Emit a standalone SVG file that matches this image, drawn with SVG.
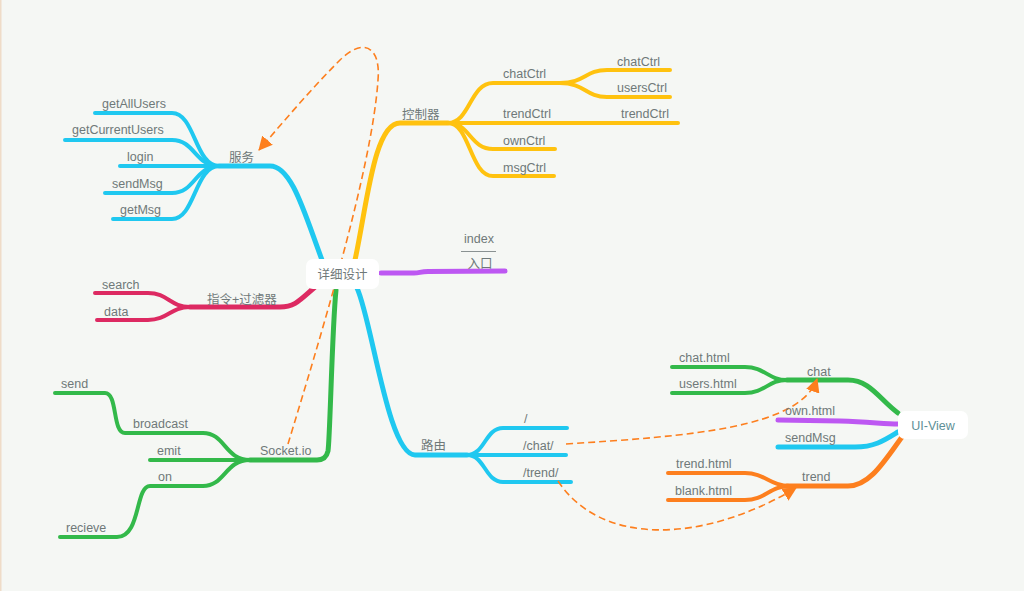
<svg xmlns="http://www.w3.org/2000/svg" width="1024" height="591" viewBox="0 0 1024 591">
<defs>
<style>
.t{font-family:"Liberation Sans","Noto Sans CJK SC",sans-serif;font-size:12.5px;fill:#6f7979}
.c{font-family:"Liberation Sans","Noto Sans CJK SC",sans-serif;font-size:12.5px;fill:#6f7979}
.b{fill:none;stroke-linecap:round;stroke-linejoin:round;stroke-width:4}
.blue{stroke:#1fc8f0}
.yel{stroke:#ffc20f}
.pink{stroke:#dd2a62}
.grn{stroke:#33b94a}
.pur{stroke:#bd58f2}
.org{stroke:#fd7f1e}
.main{stroke-width:5}
.dash{fill:none;stroke:#fd7f1e;stroke-width:1.6;stroke-dasharray:7,4}
.box{fill:#ffffff}
</style>
<marker id="ah" markerUnits="userSpaceOnUse" markerWidth="14" markerHeight="14" refX="13" refY="7" orient="auto">
<path d="M0,0 L14,7 L0,14 z" fill="#fd7f1e"/>
</marker>
</defs>
<rect x="0" y="0" width="1024" height="591" fill="#f5f7f4"/>
<rect x="0" y="0" width="1.5" height="591" fill="#efdcc8"/>

<g id="connectors">
<!-- services -->
<path class="b blue main" d="M322,260 C305,215 292,166 270,166 L219,166"/>
<path class="b blue" d="M219,166 C195,166 195,113 172,113 L95,113"/>
<path class="b blue" d="M219,166 C195,166 195,140 172,140 L65,140"/>
<path class="b blue" d="M219,166 L120,166"/>
<path class="b blue" d="M219,166 C195,166 195,193 172,193 L105,193"/>
<path class="b blue" d="M219,166 C195,166 195,219 172,219 L113,219"/>
<!-- controller -->
<path class="b yel main" d="M355,260 C367,205 374,123 400,123 L448,123"/>
<path class="b yel" d="M448,123 C470,123 470,83 493,83 L560,83"/>
<path class="b yel" d="M560,83 C585,83 585,70 607,70 L670,70"/>
<path class="b yel" d="M560,83 C585,83 585,97 607,97 L670,97"/>
<path class="b yel" d="M448,123 L678,123"/>
<path class="b yel" d="M448,123 C470,123 470,149 493,149 L555,149"/>
<path class="b yel" d="M448,123 C470,123 470,176 493,176 L554,176"/>
<!-- entry -->
<path class="b pur main" d="M381,273 L414,273 C420,273 420,271.5 428,271.5 L505,271"/>
<!-- directive -->
<path class="b pink main" d="M315,287 C300,300 295,307 280,307 L190,307"/>
<path class="b pink" d="M190,307 C170,307 168,293 148,293 L95,293"/>
<path class="b pink" d="M190,307 C170,307 168,320 148,320 L97,320"/>
<!-- socket -->
<path class="b grn main" d="M336,290 C332,330 330,440 328,451 Q326,460 317,460 L250,460"/>
<path class="b grn" d="M250,460 C225,460 225,433 203,433 L125,433 C112,433 118,393 105,393 L55,393"/>
<path class="b grn" d="M250,460 L150,460"/>
<path class="b grn" d="M250,460 C225,460 225,486 203,486 L150,486 C135,486 141,537 117,537 L60,537"/>
<!-- route -->
<path class="b blue main" d="M357,288 C372,320 388,455 415,455 L467,455"/>
<path class="b blue" d="M467,455 C485,455 485,428 503,428 L567,428"/>
<path class="b blue" d="M467,455 L566,455"/>
<path class="b blue" d="M467,455 C485,455 485,482 503,482 L571,482"/>
<!-- UI-View -->
<path class="b grn" d="M672,367 L745,367 C765,367 768,380 787,380"/>
<path class="b grn" d="M672,393 L745,393 C765,393 768,380 787,380"/>
<path class="b grn main" d="M787,380 L848,380 C870,380 880,400 898,413"/>
<path class="b pur main" d="M778,420 L840,421 C870,422 885,424 898,424"/>
<path class="b blue main" d="M778,447 L855,447 C875,447 885,440 898,432"/>
<path class="b org" d="M668,473 L745,473 C765,473 770,486 790,486"/>
<path class="b org" d="M668,500 L745,500 C765,500 770,486 790,486"/>
<path class="b org main" d="M787,486 L848,486 C870,486 885,460 902,437"/>
<!-- dashed relations -->
<path class="dash" marker-end="url(#ah)" d="M288,444 C318,345 372,170 378,80 C381,45 362,38 340,60 C312,88 285,120 259,150"/>
<path class="dash" marker-end="url(#ah)" d="M566,444 C690,436 800,428 817,379"/>
<path class="dash" marker-end="url(#ah)" d="M558,481 C600,545 700,545 796,488"/>
</g>

<g id="node-root">
<rect class="box" x="306" y="259" width="73" height="30" rx="7"/>
<text class="c" x="342.5" y="279" text-anchor="middle">详细设计</text>
</g>
<g id="node-services">
<text class="c" x="229" y="162">服务</text>
<text class="t" x="102" y="108">getAllUsers</text>
<text class="t" x="72" y="134">getCurrentUsers</text>
<text class="t" x="127" y="161">login</text>
<text class="t" x="112" y="188">sendMsg</text>
<text class="t" x="120" y="214">getMsg</text>
</g>
<g id="node-controller">
<text class="c" x="402" y="119">控制器</text>
<text class="t" x="503" y="78">chatCtrl</text>
<text class="t" x="617" y="66">chatCtrl</text>
<text class="t" x="617" y="92">usersCtrl</text>
<text class="t" x="503" y="118">trendCtrl</text>
<text class="t" x="621" y="118">trendCtrl</text>
<text class="t" x="503" y="145">ownCtrl</text>
<text class="t" x="503" y="172">msgCtrl</text>
</g>
<g id="node-entry">
<text class="t" x="479" y="243" text-anchor="middle">index</text>
<line x1="461" y1="251.5" x2="496" y2="251.5" stroke="#8a9292" stroke-width="1"/>
<text class="c" x="480" y="268" text-anchor="middle">入口</text>
</g>
<g id="node-directive">
<text class="c" x="207" y="304">指令+过滤器</text>
<text class="t" x="102" y="289">search</text>
<text class="t" x="104" y="316">data</text>
</g>
<g id="node-socket">
<text class="t" x="260" y="455">Socket.io</text>
<text class="t" x="61" y="388">send</text>
<text class="t" x="133" y="428">broadcast</text>
<text class="t" x="157" y="455">emit</text>
<text class="t" x="158" y="481">on</text>
<text class="t" x="66" y="532">recieve</text>
</g>
<g id="node-route">
<text class="c" x="421" y="450">路由</text>
<text class="t" x="524" y="423">/</text>
<text class="t" x="523" y="450">/chat/</text>
<text class="t" x="523" y="477">/trend/</text>
</g>
<g id="node-uiview">
<rect class="box" x="898" y="411" width="70" height="28" rx="7"/>
<text class="t" x="933" y="429.5" text-anchor="middle" style="fill:#5e8f96">UI-View</text>
<text class="t" x="807" y="376">chat</text>
<text class="t" x="679" y="362">chat.html</text>
<text class="t" x="679" y="388">users.html</text>
<text class="t" x="785" y="415">own.html</text>
<text class="t" x="785" y="442">sendMsg</text>
<text class="t" x="802" y="481">trend</text>
<text class="t" x="676" y="468">trend.html</text>
<text class="t" x="675" y="495">blank.html</text>
</g>
</svg>
